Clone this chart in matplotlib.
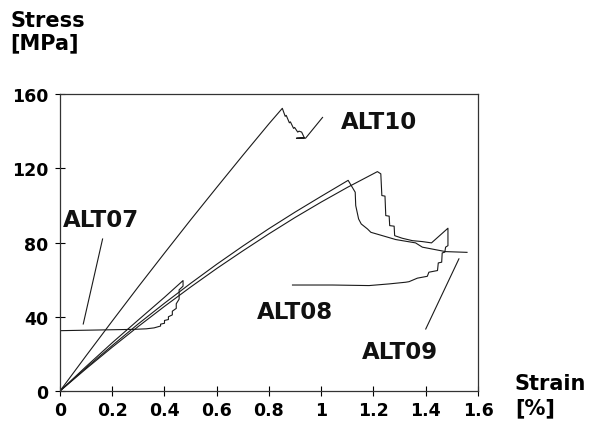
import matplotlib.pyplot as plt

# stress-strain records, strain in %, stress in MPa
alt10_strain = [0, 0.1, 0.2, 0.3, 0.4, 0.5, 0.6, 0.7, 0.8, 0.851,
                0.862, 0.866, 0.878, 0.882, 0.894, 0.898, 0.91, 0.915, 0.925,
                0.935, 0.905, 0.94, 1.005]
alt10_stress = [0, 19.0, 37.7, 56.2, 74.3, 92.2, 109.7, 127.0, 144.0, 152.3,
                148.0, 148.5, 144.5, 145.0, 141.5, 142.0, 139.5, 140.0, 139.5,
                136.5, 136.2, 136.2, 147.4]

alt07_strain = [0, 0.1, 0.2, 0.3, 0.4, 0.471, 0.471, 0.456, 0.456, 0.445, 0.445,
                0.43, 0.43, 0.415, 0.415, 0.4, 0.4, 0.385, 0.385, 0.36, 0.33, 0.28, 0]
alt07_stress = [0, 13.2, 26.0, 38.3, 50.5, 59.5, 56.5, 54.5, 49.5, 47.0, 44.5,
                43.0, 41.0, 40.0, 38.5, 38.0, 36.5, 36.0, 35.0, 34.0, 33.5, 33.2, 32.5]

alt09_strain = [0, 0.1, 0.2, 0.3, 0.4, 0.5, 0.6, 0.7, 0.8, 0.9, 1.0, 1.103,
                1.130, 1.132, 1.143, 1.153, 1.177, 1.19, 1.234, 1.285, 1.361,
                1.387, 1.476, 1.558]
alt09_stress = [0, 12.5, 24.5, 36.2, 47.3, 58.0, 68.3, 78.1, 87.5, 96.4, 104.9, 113.5,
                107.1, 99.9, 92.7, 90.0, 87.3, 85.5, 83.7, 81.6, 79.8,
                77.5, 75.1, 74.7]

alt08_strain = [0, 0.1, 0.2, 0.3, 0.4, 0.5, 0.6, 0.7, 0.8, 0.9, 1.0, 1.1, 1.215,
                1.228, 1.232, 1.244, 1.247, 1.26, 1.262, 1.279, 1.281, 1.31, 1.349,
                1.387, 1.422, 1.485, 1.485, 1.476, 1.473, 1.463, 1.461, 1.448, 1.445,
                1.412, 1.406, 1.368, 1.336, 1.323, 1.26, 1.183, 1.043, 0.89]
alt08_stress = [0, 12.0, 23.6, 34.8, 45.6, 56.0, 66.0, 75.5, 84.7, 93.5, 101.8, 109.7, 118.2,
                117.0, 105.3, 105.0, 94.5, 94.2, 89.1, 88.8, 83.7, 82.3, 81.0,
                80.5, 79.8, 87.7, 78.3, 77.5, 74.8, 74.4, 69.4, 69.0, 64.9,
                64.0, 61.8, 60.8, 58.9, 58.6, 57.7, 56.8, 57.1, 57.1]

x_ticks = [0, 0.2, 0.4, 0.6, 0.8, 1.0, 1.2, 1.4, 1.6]
x_tick_labels = ['0', '0.2', '0.4', '0.6', '0.8', '1', '1.2', '1.4', '1.6']
y_ticks = [0, 40, 80, 120, 160]

plt.rcParams['font.family'] = 'DejaVu Sans'
plt.rcParams['font.weight'] = 'bold'

fig = plt.figure(figsize=(5.94, 4.31), dpi=100)
ax = fig.add_axes([0.101, 0.0905, 0.7037, 0.689])

line_kw = dict(color='#1a1a1a', lw=0.8)
for xs, ys in [(alt10_strain, alt10_stress), (alt07_strain, alt07_stress),
               (alt09_strain, alt09_stress), (alt08_strain, alt08_stress)]:
    ax.plot(xs, ys, **line_kw)

# labels with leader lines
lab_kw = dict(fontsize=16.5, fontweight='bold', color='#111111')
ax.text(1.075, 145, 'ALT10', ha='left', va='center', **lab_kw)
ax.text(0.01, 92.2, 'ALT07', ha='left', va='center', **lab_kw)
ax.plot([0.163, 0.089], [81.9, 36.1], **line_kw)
ax.text(0.753, 42.9, 'ALT08', ha='left', va='center', **lab_kw)
ax.text(1.157, 21.3, 'ALT09', ha='left', va='center', **lab_kw)
ax.plot([1.4, 1.527], [33.4, 71.2], **line_kw)

ax.set_xlim(0, 1.6)
ax.set_ylim(0, 160)
ax.set_xticks(x_ticks)
ax.set_xticklabels(x_tick_labels)
ax.set_yticks(y_ticks)
ax.tick_params(direction='inout', length=7, width=0.8, labelsize=12.5)
ax.tick_params(axis='y', pad=5)
ax.tick_params(axis='x', pad=4)
for lbl in ax.get_xticklabels() + ax.get_yticklabels():
    lbl.set_fontweight('bold')
for sp in ax.spines.values():
    sp.set_linewidth(0.9)
    sp.set_color('#333333')

fig.text(0.017, 0.937, 'Stress', fontsize=15, fontweight='bold', va='baseline')
fig.text(0.017, 0.886, '[MPa]', fontsize=15, fontweight='bold', va='baseline')
fig.text(0.867, 0.095, 'Strain', fontsize=15, fontweight='bold', va='baseline')
fig.text(0.867, 0.039, '[%]', fontsize=15, fontweight='bold', va='baseline')

fig.savefig('out.png', dpi=100)
